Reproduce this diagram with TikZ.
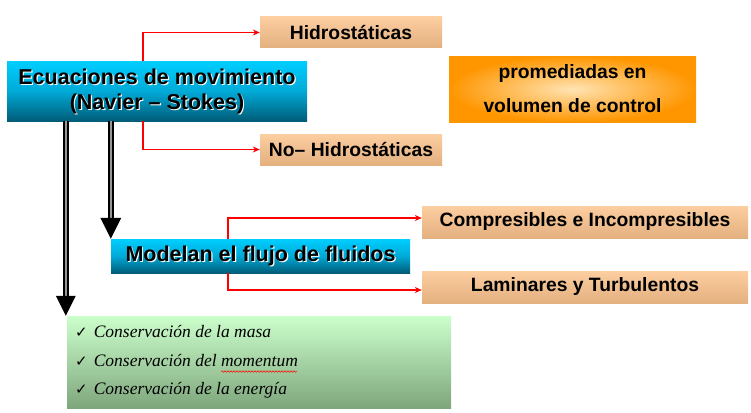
\documentclass[tikz,border=0pt]{standalone}
\usepackage{fontspec}
\setmainfont{Liberation Sans}
\newfontfamily\serifit{Liberation Serif}
\newfontfamily\symbfont{DejaVu Sans}
\usetikzlibrary{arrows.meta,decorations.pathmorphing,calc}
\definecolor{cyantop}{RGB}{0,206,255}
\definecolor{cyanmid}{RGB}{0,170,215}
\definecolor{tealbot}{RGB}{0,92,120}
\definecolor{peachtop}{RGB}{252,206,160}
\definecolor{peachbot}{RGB}{228,176,128}
\definecolor{orin}{RGB}{255,228,180}
\definecolor{orout}{RGB}{255,150,0}
\definecolor{greentop}{RGB}{204,255,204}
\definecolor{greenbot}{RGB}{126,166,124}
\definecolor{shaftgray}{RGB}{150,150,150}
\tikzset{
  bluebox/.style={shape=rectangle, inner sep=0pt, top color=cyantop, bottom color=tealbot, middle color=cyanmid},
  peachbox/.style={shape=rectangle, inner sep=0pt, top color=peachtop, bottom color=peachbot,
    font=\bfseries\fontsize{19.3}{23}\selectfont},
  bigtxt/.style={align=center, inner sep=0pt, font=\bfseries\fontsize{21.5}{25}\selectfont},
  redcon/.style={draw=red, line width=1.8pt, -{Stealth[length=7pt,width=6pt]}},
  shaft/.style={draw=black, line width=2pt, double=shaftgray, double distance=2pt},
  headtri/.style={fill=black},
  checkline/.style={anchor=west, inner sep=0pt, font=\fontsize{17.5}{20}\selectfont}
}
\begin{document}
\begin{tikzpicture}[x=1pt,y=-1pt]
\useasboundingbox (0,0) rectangle (751,412);
% boxes
\node[bluebox, minimum width=300pt, minimum height=60pt] (main) at (157,91) {};
\node[bigtxt, text=white] (mainsh) at (158.2,92.2) {Ecuaciones de movimiento\\(Navier – Stokes)};
\node[bigtxt] (maintxt) at (157,91) {Ecuaciones de movimiento\\(Navier – Stokes)};

\node[peachbox, minimum width=182pt, minimum height=31pt] (hyd) at (351,32.5) {Hidrostáticas};
\node[peachbox, minimum width=182pt, minimum height=31pt] (nohyd) at (351,149.5) {No– Hidrostáticas};

\node[shape=rectangle, inner sep=0pt, minimum width=247pt, minimum height=66pt,
      inner color=orin, outer color=orout] (prom) at (572.5,89) {};
\node[align=center, inner sep=0pt, font=\bfseries\fontsize{19.3}{34}\selectfont] (promtxt) at (572.5,89)
  {promediadas en\\volumen de control};

\node[bluebox, minimum width=299pt, minimum height=34pt] (model) at (260.5,256) {};
\node[bigtxt, text=white] (modelsh) at (261.7,257.2) {Modelan el flujo de fluidos};
\node[bigtxt] (modeltxt) at (260.5,256) {Modelan el flujo de fluidos};

\node[peachbox, minimum width=326pt, minimum height=32pt] (comp) at (585,222) {Compresibles e Incompresibles};
\node[peachbox, minimum width=326pt, minimum height=32pt] (lam) at (585,287) {Laminares y Turbulentos};

\node[shape=rectangle, inner sep=0pt, minimum width=384pt, minimum height=92pt,
      top color=greentop, bottom color=greenbot] (green) at (259,362) {};
\node[checkline] (g1) at (75,332) {{\symbfont\fontsize{15}{16}\selectfont ✓}\hspace{6pt}{\serifit\itshape Conservación de la masa}};
\node[checkline] (g2) at (75,361) {{\symbfont\fontsize{15}{16}\selectfont ✓}\hspace{6pt}{\serifit\itshape Conservación del momentum}};
\node[checkline] (g3) at (75,390) {{\symbfont\fontsize{15}{16}\selectfont ✓}\hspace{6pt}{\serifit\itshape Conservación de la energía}};
\draw[red, line width=0.5pt, decorate, decoration={snake, amplitude=0.8pt, segment length=3pt}]
  (221,371.5) -- (297,371.5);

% red connectors
\path (main.south west) ++(136,0) coordinate (rx1);
\draw[redcon] (rx1 |- main.north) |- (hyd.west);
\draw[redcon] (rx1 |- main.south) |- (nohyd.west);
\path (model.south west) ++(117,0) coordinate (rx2);
\draw[redcon] (rx2 |- model.north) |- ($(comp.west)+(0,-4)$);
\draw[redcon] (rx2 |- model.south) |- ($(lam.west)+(0,3)$);

% double arrows
\path (main.south west) ++(59,0) coordinate (s1top);
\path (main.south west) ++(104,0) coordinate (s2top);
\coordinate (s1tip) at (green.north -| s1top);
\coordinate (s2tip) at (model.north -| s2top);
\draw[shaft] (s1top) -- ($(s1tip)+(0,-19)$);
\fill[headtri] ($(s1tip)+(-10,-20)$) -- (s1tip) -- ($(s1tip)+(10,-20)$) -- cycle;
\draw[shaft] (s2top) -- ($(s2tip)+(0,-19)$);
\fill[headtri] ($(s2tip)+(-10.5,-21)$) -- (s2tip) -- ($(s2tip)+(10.5,-21)$) -- cycle;
\end{tikzpicture}
\end{document}
